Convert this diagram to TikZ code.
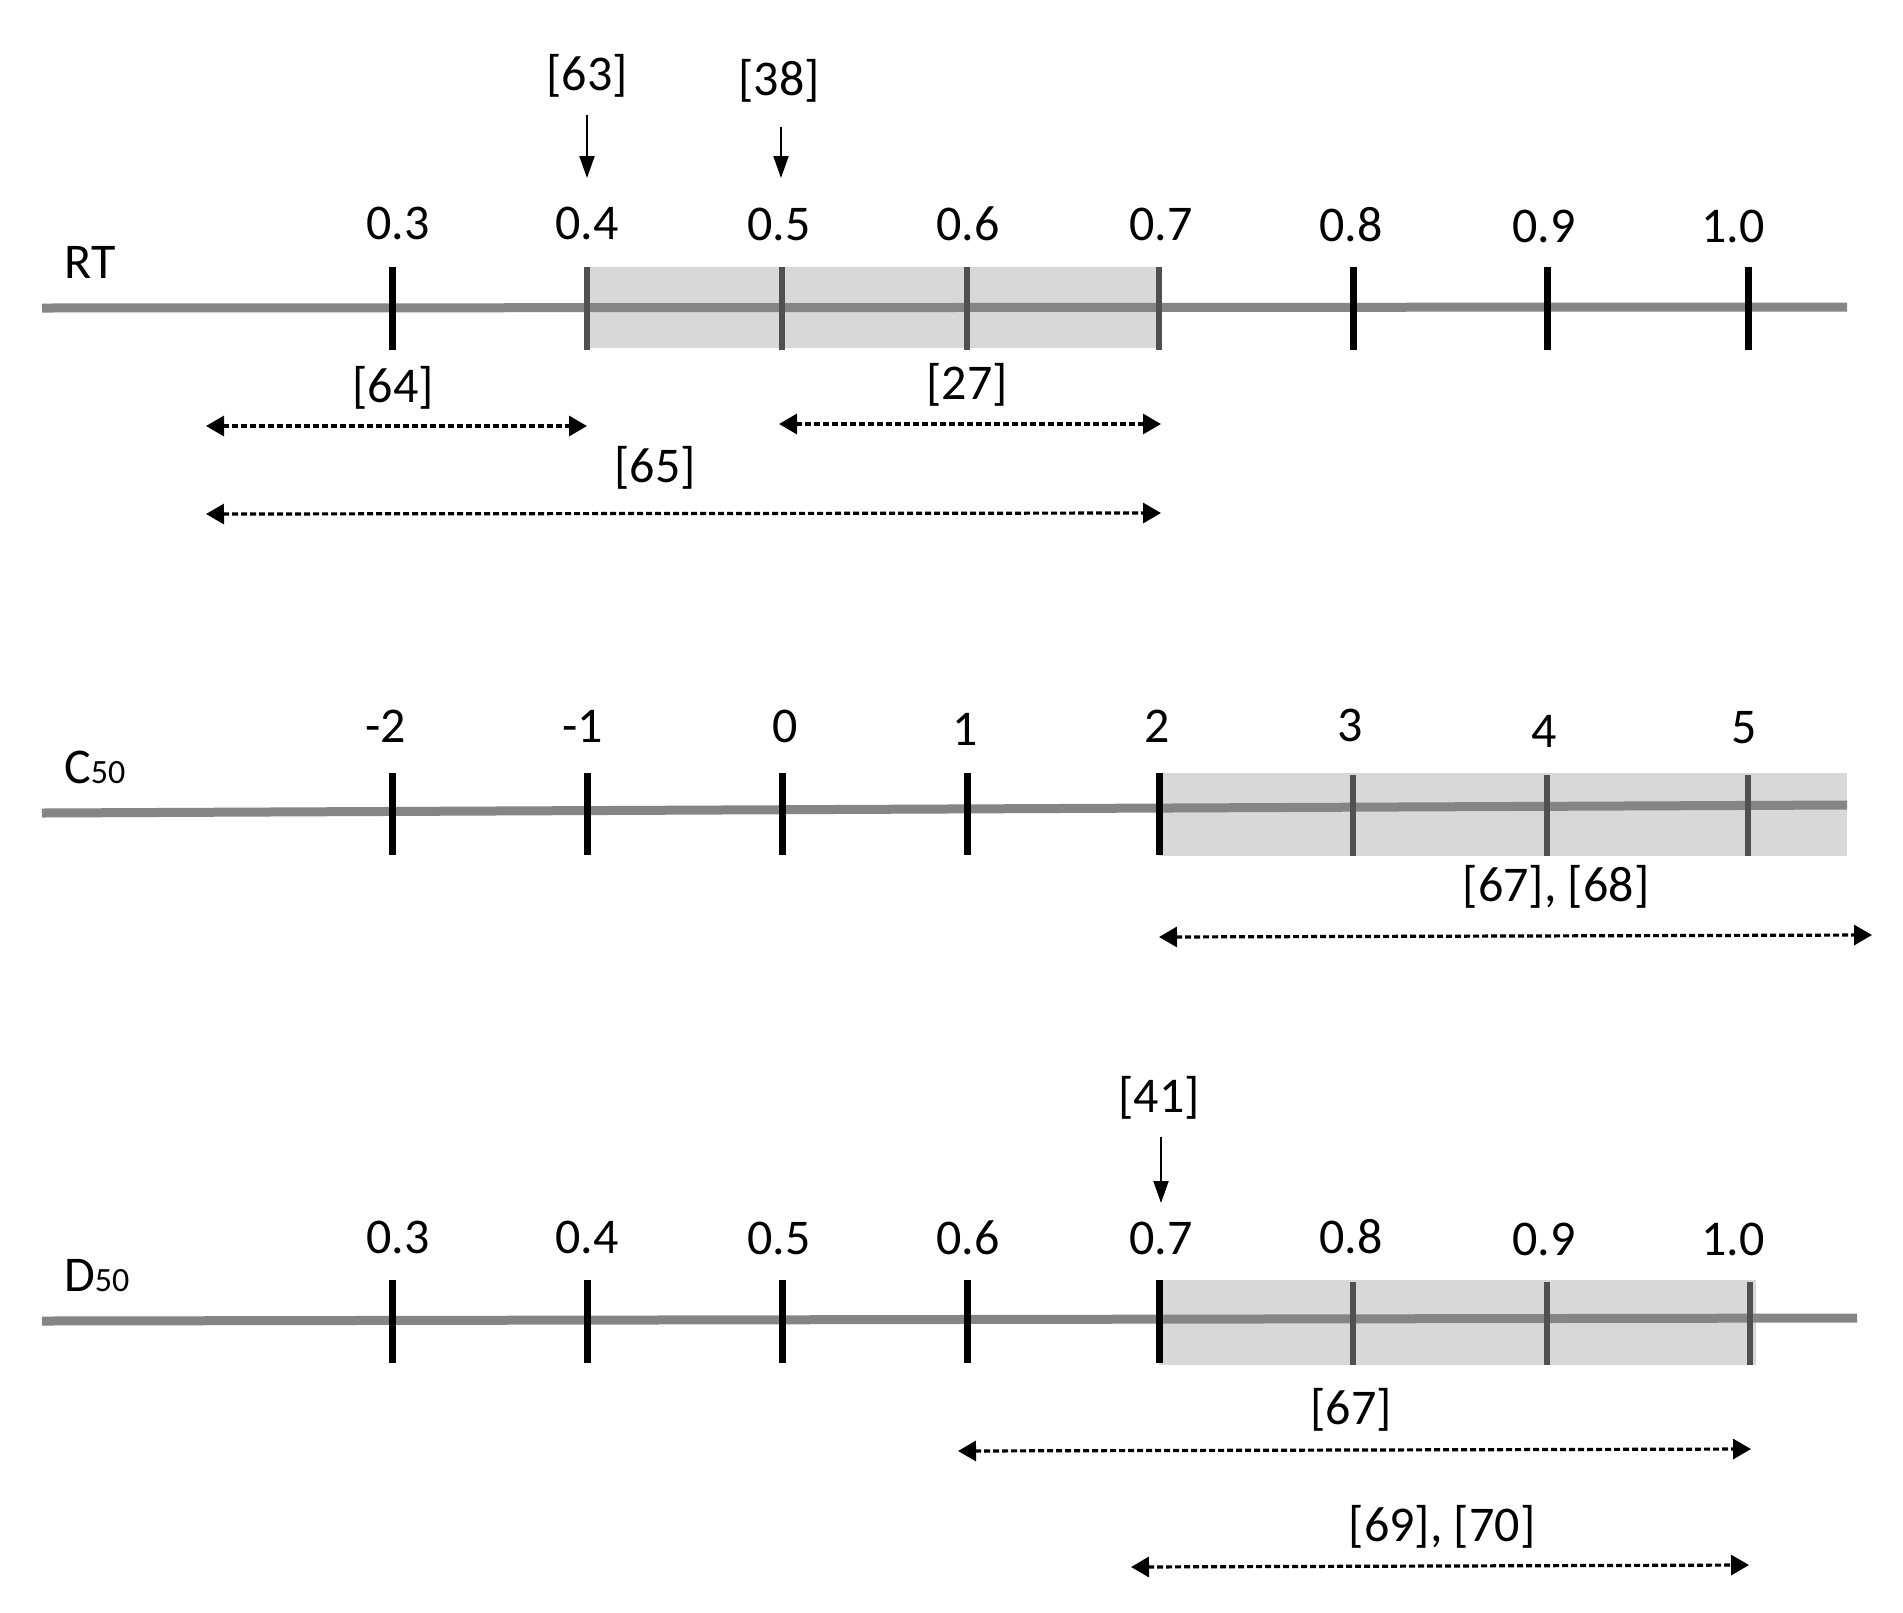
\documentclass[tikz,border=0pt]{standalone}
\usepackage{fontspec}
\setmainfont{Carlito}
\usetikzlibrary{arrows.meta}
\definecolor{axisgray}{HTML}{858585}
\definecolor{boxgray}{HTML}{D8D8D8}
\definecolor{tickgray}{HTML}{505050}
\begin{document}
\begin{tikzpicture}[x=1pt,y=-1pt,
  axisline/.style={line width=9pt, draw=axisgray},
  rangebox/.style={fill=boxgray, draw=none},
  tickblack/.style={line width=7pt, draw=black},
  tickdark/.style={line width=6pt, draw=tickgray},
  lbl/.style={inner sep=0pt, font=\fontsize{50}{56}\selectfont},
  ref/.style={inner sep=0pt, font=\fontsize{50}{56}\selectfont},
  rangearrow/.style={line width=3.2pt, dash pattern=on 6pt off 3pt, {Triangle[length=18pt,width=20pt]}-{Triangle[length=18pt,width=20pt]}},
  downarrow/.style={line width=2pt, -{Triangle[length=22pt,width=15pt]}}
]
\useasboundingbox (0,0) rectangle (1903,1612);
\fill[white] (0,0) rectangle (1903,1612);

% ================= RT =================
\fill[rangebox] (587,267) rectangle (1159,348);
\draw[axisline] (42,308) -- (1847,307);
\foreach \x in {392,1353,1547,1748} \draw[tickblack] (\x,267) -- (\x,350);
\foreach \x in {587,782,967,1159} \draw[tickdark] (\x,267) -- (\x,350);
\node[lbl] (rtname) at (90,262) {RT};
\node[lbl] (rt3) at (398,223) {0.3};
\node[lbl] (rt4) at (587,223) {0.4};
\node[lbl] (rt5) at (779,224) {0.5};
\node[lbl] (rt6) at (968,224) {0.6};
\node[lbl] (rt7) at (1161,224) {0.7};
\node[lbl] (rt8) at (1351,225) {0.8};
\node[lbl] (rt9) at (1544,226) {0.9};
\node[lbl] (rt10) at (1733,226) {1.0};

\node[ref] (r63) at (587,76) {[63]};
\node[ref] (r38) at (779,81) {[38]};
\coordinate (a63s) at (587,115);
\coordinate (a63e) at (587,178);
\coordinate (a38s) at (781,127);
\coordinate (a38e) at (781,178);
\draw[downarrow] (a63s) -- (a63e);
\draw[downarrow] (a38s) -- (a38e);

\node[ref] (r64) at (393,388) {[64]};
\coordinate (r64l) at (206,426);
\coordinate (r64r) at (587,426);
\draw[rangearrow] (r64l) -- (r64r);

\node[ref] (r27) at (967,385) {[27]};
\coordinate (r27l) at (779,424);
\coordinate (r27r) at (1161,424);
\draw[rangearrow] (r27l) -- (r27r);

\node[ref] (r65) at (655,468) {[65]};
\coordinate (r65l) at (206,514);
\coordinate (r65r) at (1161,513);
\draw[rangearrow] (r65l) -- (r65r);

% ================= C50 =================
\fill[rangebox] (1159,773) rectangle (1847,856);
\draw[axisline] (42,813) -- (1847,805);
\foreach \x in {392,587,782,967,1159} \draw[tickblack] (\x,773) -- (\x,855);
\foreach \x in {1353,1547,1748} \draw[tickdark] (\x,775) -- (\x,856);
\node[lbl, anchor=base west] (cname) at (64,783) {C{\fontsize{34}{40}\selectfont 50}};
\node[lbl] (cm2) at (386,726) {-2};
\node[lbl] (cm1) at (583,726) {-1};
\node[lbl] (c0) at (785,726) {0};
\node[lbl] (c1) at (965,729) {1};
\node[lbl] (c2) at (1157,726) {2};
\node[lbl] (c3) at (1350,725) {3};
\node[lbl] (c4) at (1544,731) {4};
\node[lbl] (c5) at (1744,728) {5};

\node[ref] (r6768) at (1556,887) {[67], [68]};
\coordinate (c68l) at (1159,937);
\coordinate (c68r) at (1872,935);
\draw[rangearrow] (c68l) -- (c68r);

% ================= D50 =================
\fill[rangebox] (1159,1280) rectangle (1756,1365);
\draw[axisline] (42,1321) -- (1857,1318);
\foreach \x in {392,587,782,967,1159} \draw[tickblack] (\x,1280) -- (\x,1363);
\foreach \x in {1353,1547,1750} \draw[tickdark] (\x,1282) -- (\x,1365);
\node[lbl, anchor=base west] (dname) at (64,1291) {D{\fontsize{34}{40}\selectfont 50}};
\node[lbl] (d3) at (398,1237) {0.3};
\node[lbl] (d4) at (587,1237) {0.4};
\node[lbl] (d5) at (779,1238) {0.5};
\node[lbl] (d6) at (968,1238) {0.6};
\node[lbl] (d7) at (1161,1238) {0.7};
\node[lbl] (d8) at (1351,1237) {0.8};
\node[lbl] (d9) at (1544,1239) {0.9};
\node[lbl] (d10) at (1733,1239) {1.0};

\node[ref] (r41) at (1159,1098) {[41]};
\coordinate (a41s) at (1161,1137);
\coordinate (a41e) at (1161,1203);
\draw[downarrow] (a41s) -- (a41e);

\node[ref] (r67) at (1351,1410) {[67]};
\coordinate (d67l) at (958,1451);
\coordinate (d67r) at (1751,1449);
\draw[rangearrow] (d67l) -- (d67r);

\node[ref] (r6970) at (1442,1527) {[69], [70]};
\coordinate (d70l) at (1131,1567);
\coordinate (d70r) at (1749,1565);
\draw[rangearrow] (d70l) -- (d70r);
\end{tikzpicture}
\end{document}
